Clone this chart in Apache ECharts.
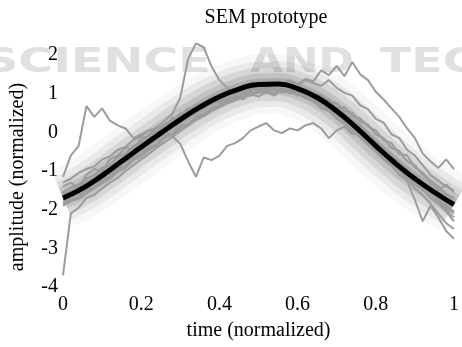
<!DOCTYPE html>
<html>
<head>
<meta charset="utf-8">
<script src="https://cdn.jsdelivr.net/npm/echarts@6/dist/echarts.min.js"></script>
<style>html,body{margin:0;padding:0;background:#fff}#c{width:462px;height:347px}</style>
</head>
<body>
<div id="c"></div>
<script>
// time grid for gray traces (step 0.02)
const time = [0,0.02,0.04,0.06,0.08,0.10,0.12,0.14,0.16,0.18,
  0.20,0.22,0.24,0.26,0.28,0.30,0.32,0.34,0.36,0.38,
  0.40,0.42,0.44,0.46,0.48,0.50,0.52,0.54,0.56,0.58,
  0.60,0.62,0.64,0.66,0.68,0.70,0.72,0.74,0.76,0.78,
  0.80,0.82,0.84,0.86,0.88,0.90,0.92,0.94,0.96,0.98,1.00];

// prototype (black) curve
const protoTime = [0,0.05,0.10,0.15,0.20,0.25,0.30,0.35,0.40,0.45,0.50,0.55,0.60,0.65,0.70,0.75,0.80,0.85,0.90,0.95,1.00];
const protoVals = [-1.70,-1.45,-1.12,-0.75,-0.38,-0.02,0.33,0.65,0.92,1.12,1.24,1.25,1.13,0.90,0.55,0.12,-0.35,-0.80,-1.20,-1.55,-1.87];

// gray traces
const trace1 = [-1.55,-1.42,-1.35,-1.20,-1.10,-0.92,-0.85,-0.62,-0.55,-0.35,
  -0.25,-0.05,0.02,0.22,0.28,0.48,0.52,0.70,0.75,0.90,
  0.95,1.08,1.02,1.15,1.10,1.22,1.15,1.28,1.18,1.20,
  1.08,1.12,0.95,0.98,0.80,0.75,0.55,0.50,0.28,0.20,
  -0.05,-0.15,-0.40,-0.48,-0.75,-0.85,-1.10,-1.25,-1.40,-1.60,-1.70];
const trace2 = [-1.85,-1.75,-1.68,-1.50,-1.42,-1.25,-1.15,-0.95,-0.88,-0.68,
  -0.58,-0.40,-0.32,-0.10,-0.05,0.15,0.20,0.40,0.48,0.62,
  0.70,0.85,0.88,1.00,0.98,1.10,1.05,1.12,1.02,1.08,
  0.95,0.98,0.82,0.78,0.60,0.52,0.30,0.22,0.02,-0.10,
  -0.32,-0.42,-0.68,-0.80,-1.05,-1.12,-1.38,-1.50,-1.75,-1.90,-2.05];
const trace3 = [-1.40,-1.30,-1.45,-1.10,-0.95,-1.02,-0.70,-0.60,-0.40,-0.45,
  -0.15,-0.10,0.15,0.10,0.38,0.35,0.62,0.55,0.78,0.72,
  0.88,0.80,0.95,0.85,1.00,0.92,1.05,0.95,1.10,1.00,
  1.05,0.90,0.98,0.80,0.85,0.62,0.65,0.42,0.35,0.15,
  0.05,-0.20,-0.28,-0.55,-0.60,-0.90,-1.05,-1.30,-1.50,-1.35,-1.55];
const trace4 = [-1.60,-1.52,-1.40,-1.30,-1.18,-1.05,-0.92,-0.78,-0.60,-0.50,
  -0.30,-0.22,-0.02,0.10,0.25,0.35,0.52,0.60,0.75,0.85,
  0.90,1.02,1.00,1.12,1.08,1.20,1.15,1.28,1.22,1.35,
  1.25,1.38,1.32,1.60,1.48,1.72,1.45,1.82,1.50,1.35,
  1.05,0.85,0.62,0.40,0.10,-0.15,-0.55,-0.75,-0.92,-0.70,-0.95];
const trace5 = [-1.75,-1.62,-1.55,-1.40,-1.32,-1.15,-1.05,-0.88,-0.75,-0.58,
  -0.45,-0.28,-0.18,0.00,0.12,0.25,0.38,0.50,0.62,0.75,
  0.82,0.95,1.05,0.98,1.15,1.10,1.22,1.30,1.18,1.32,
  1.22,1.35,1.28,1.20,1.35,1.15,1.02,0.95,0.70,0.60,
  0.35,0.25,-0.05,-0.15,-0.45,-0.60,-0.85,-1.10,-1.25,-1.40,-1.50];
const trace6 = [-1.15,-0.60,-0.35,0.68,0.40,0.62,0.30,0.18,0.10,-0.15,
  -0.05,0.05,-0.02,0.20,0.30,0.42,0.55,0.50,0.68,0.80,
  0.75,0.92,0.88,1.02,0.95,1.12,1.05,1.00,1.15,1.08,
  1.00,0.92,0.85,0.70,0.72,0.52,0.45,0.25,0.15,-0.05,
  -0.22,-0.45,-0.58,-0.80,-0.95,-1.22,-1.35,-1.60,-1.72,-1.95,-2.10];
const trace7 = [-1.30,-1.20,-1.05,-0.95,-0.88,-0.70,-0.62,-0.45,-0.38,-0.20,
  -0.10,0.05,0.12,0.30,0.48,0.90,1.90,2.30,2.20,1.70,
  1.35,1.15,1.00,1.10,0.95,1.05,1.20,1.12,1.30,1.22,
  1.15,1.05,0.90,0.92,0.72,0.60,0.48,0.30,0.18,-0.02,
  -0.25,-0.40,-0.62,-0.75,-1.00,-1.15,-1.40,-1.55,-1.80,-2.00,-2.20];
const trace8 = [-1.80,-1.65,-1.58,-1.45,-1.30,-1.22,-1.05,-0.92,-0.75,-0.62,
  -0.48,-0.30,-0.15,0.02,-0.10,-0.30,-0.75,-1.15,-0.65,-0.72,
  -0.60,-0.35,-0.28,-0.15,0.05,0.15,0.24,0.05,-0.02,0.10,
  0.05,0.18,0.24,0.10,-0.15,0.05,0.15,-0.05,0.02,-0.25,
  -0.40,-0.62,-0.75,-0.98,-1.10,-1.35,-1.48,-1.70,-1.85,-2.05,-2.30];
const trace9 = [-1.90,-1.78,-1.72,-1.58,-1.45,-1.32,-1.20,-1.02,-0.92,-0.72,
  -0.62,-0.45,-0.35,-0.15,-0.05,0.12,0.22,0.38,0.45,0.60,
  0.68,0.78,0.88,0.95,1.05,1.02,1.12,1.08,1.15,1.05,
  1.00,0.88,0.80,0.62,0.55,0.35,0.22,0.05,-0.12,-0.30,
  -0.48,-0.70,-0.85,-1.10,-1.25,-1.75,-2.30,-1.90,-2.20,-2.55,-2.75];
const trace10 = [-3.70,-2.10,-1.95,-1.70,-1.62,-1.45,-1.30,-1.18,-1.00,-0.85,
  -0.70,-0.55,-0.40,-0.25,-0.12,0.05,0.18,0.32,0.42,0.55,
  0.65,0.75,0.82,0.92,0.98,1.05,1.02,1.10,1.05,1.12,
  1.02,0.95,0.85,0.75,0.58,0.45,0.28,0.15,-0.05,-0.20,
  -0.42,-0.60,-0.82,-0.95,-1.20,-1.45,-1.62,-1.85,-2.10,-2.35,-2.50];
const traces = [trace1,trace2,trace3,trace4,trace5,trace6,trace7,trace8,trace9,trace10];

const xTicks = [0,0.2,0.4,0.6,0.8,1];
const yTicks = [-4,-3,-2,-1,0,1,2];

const pairs = (xs, ys) => ys.map((v, i) => [xs[i], v]);
const serif = 'Liberation Serif';

const series = [];
// blurred density band around the prototype
[[60,0.03],[46,0.05],[34,0.07],[22,0.09],[12,0.1]].forEach(([w,a]) => {
  series.push({type:'line', data: pairs(protoTime, protoVals), smooth:true, showSymbol:false, silent:true, z:2,
    lineStyle:{width:w, color:'rgba(0,0,0,'+a+')', cap:'butt', shadowBlur:20, shadowColor:'rgba(0,0,0,0.12)'}});
});
traces.forEach(t => {
  series.push({type:'line', data: pairs(time, t), showSymbol:false, silent:true, z:4, clip:false,
    lineStyle:{width:2, color:'#9c9c9c'}});
});
series.push({type:'line', data: pairs(protoTime, protoVals), smooth:true, showSymbol:false, z:6, clip:false,
  lineStyle:{width:5, color:'#000'}});

const wm = {fontFamily:'DejaVu Sans', fontSize:34, fontWeight:'bold', fill:'#e0e0e0'};
const chart = echarts.init(document.getElementById('c'), null, {renderer:'canvas'});
chart.setOption({
  animation:false,
  backgroundColor:'#fff',
  title:{text:'SEM prototype', left:261, textAlign:'center', top:3,
    textStyle:{fontFamily:serif, fontSize:20, fontWeight:'normal', color:'#000'}},
  graphic:[
    {type:'text', x:-16, y:46, z:0, silent:true, scaleX:1.4, style:Object.assign({text:'SCIENCE'}, wm)},
    {type:'text', x:250, y:46, z:0, silent:true, scaleX:1.25, style:Object.assign({text:'AND'}, wm)},
    {type:'text', x:380, y:46, z:0, silent:true, scaleX:1.35, style:Object.assign({text:'TECHNOLOGY'}, wm)}
  ],
  grid:{left:62, right:2, top:55, bottom:60},
  xAxis:{type:'value', min:xTicks[0], max:xTicks[xTicks.length-1], interval:0.2,
    name:'time (normalized)', nameLocation:'middle', nameGap:34,
    nameTextStyle:{fontFamily:serif, fontSize:20, color:'#000'},
    axisLine:{show:false}, axisTick:{show:false}, splitLine:{show:false},
    axisLabel:{fontFamily:serif, fontSize:20, color:'#000', margin:8}},
  yAxis:{type:'value', min:yTicks[0], max:yTicks[yTicks.length-1], interval:1,
    name:'amplitude (normalized)', nameLocation:'middle', nameGap:35,
    nameTextStyle:{fontFamily:serif, fontSize:20, color:'#000', padding:[0,12,0,0]},
    axisLine:{show:false}, axisTick:{show:false}, splitLine:{show:false},
    axisLabel:{fontFamily:serif, fontSize:20, color:'#000', margin:5}},
  series: series
});
</script>
</body>
</html>
